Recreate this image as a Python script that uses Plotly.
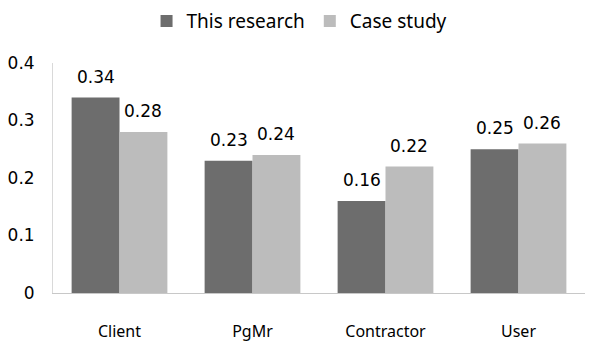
import plotly.graph_objects as go

categories = ["Client", "PgMr", "Contractor", "User"]
this_research = [0.34, 0.23, 0.16, 0.25]
case_study = [0.28, 0.24, 0.22, 0.26]
series_names = ["This research", "Case study"]
y_ticks = [0, 0.1, 0.2, 0.3, 0.4]
y_tick_labels = ["0", "0.1", "0.2", "0.3", "0.4"]

colors = ["#6d6d6d", "#bcbcbc"]
FONT = "Noto Sans, Open Sans, sans-serif"
NUMFONT = "DejaVu Sans, Noto Sans, sans-serif"

fig = go.Figure()
for name, vals, col in zip(series_names, [this_research, case_study], colors):
    fig.add_trace(go.Bar(x=categories, y=vals, name=name, marker_color=col,
                         marker_line_width=0))

bargap = 0.28
bw = (1 - bargap) / 2
annotations = []
for si, vals in enumerate([this_research, case_study]):
    off = -bw / 2 if si == 0 else bw / 2
    for i, v in enumerate(vals):
        annotations.append(dict(x=i + off, y=v, xref="x", yref="y", text=f"{v:.2f}",
                                showarrow=False, yanchor="bottom", yshift=9,
                                font=dict(size=17, color="#000000", family=NUMFONT)))

fig.update_layout(
    width=595, height=343,
    margin=dict(l=45, r=18, t=55, b=58, autoexpand=False),
    paper_bgcolor="white", plot_bgcolor="white",
    barmode="group", bargap=bargap, bargroupgap=0,
    font=dict(family=FONT, size=17, color="#000000"),
    showlegend=True,
    legend=dict(orientation="h", x=0.49, xanchor="center", xref="container",
                y=0.962, yanchor="middle", yref="container",
                font=dict(size=19, family=FONT, color="#000000"), itemwidth=30,
                traceorder="normal"),
    annotations=annotations,
    xaxis=dict(showgrid=False, showline=True, linecolor="#c8c8c8", linewidth=1,
               ticks="outside", ticklen=24, tickcolor="rgba(0,0,0,0)", automargin=False,
               tickfont=dict(size=16, family=FONT, color="#000000")),
    yaxis=dict(range=[0, 0.4], tickvals=y_ticks, ticktext=y_tick_labels,
               showgrid=False, showline=True, linecolor="#d9d9d9", linewidth=1,
               zeroline=False, ticks="outside", ticklen=14, tickcolor="rgba(0,0,0,0)",
               automargin=False,
               tickfont=dict(size=17, family=NUMFONT, color="#000000")),
)
fig.write_html("out.html")
